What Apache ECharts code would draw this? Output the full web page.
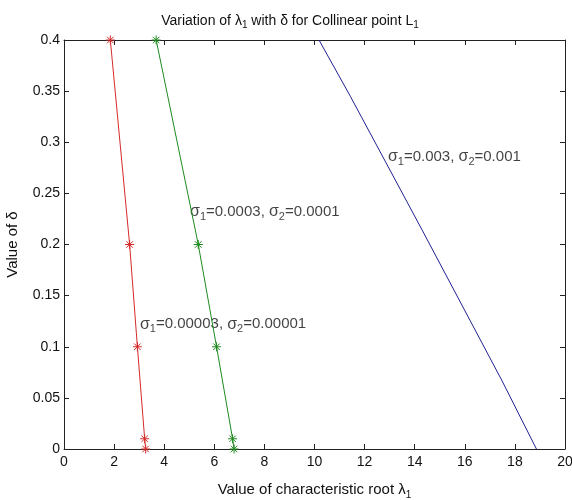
<!DOCTYPE html>
<html><head><meta charset="utf-8">
<script src="https://cdn.jsdelivr.net/npm/echarts@6/dist/echarts.min.js"></script>
<style>html,body{margin:0;padding:0;background:#fff}#c{width:572px;height:500px}</style>
</head><body><div id="c"></div>
<script>
const xTicks = [0,2,4,6,8,10,12,14,16,18,20];
const yTicks = [0,0.05,0.1,0.15,0.2,0.25,0.3,0.35,0.4];
const deltaMarked = [0.4, 0.2, 0.1, 0.01, 0];
const redLambda = [1.85, 2.62, 2.93, 3.22, 3.26];
const greenLambda = [3.68, 5.36, 6.09, 6.73, 6.79];
const blueDelta = [0.4, 0.345, 0.214, 0.0675, 0];
const blueLambda = [10.18, 11.43, 14.3, 17.47, 18.86];
const annotations = [
  {x: 12.93, y: 0.2855, s1: '0.003', s2: '0.001'},
  {x: 5.03, y: 0.232, s1: '0.0003', s2: '0.0001'},
  {x: 3.03, y: 0.122, s1: '0.00003', s2: '0.00001'}
];
const FONT = 'Liberation Sans, Arial, sans-serif';
const TXT = '#111';
const star = 'path://M0,-5L0,5M-5,0L5,0M-3.6,-3.6L3.6,3.6M-3.6,3.6L3.6,-3.6';
const chart = echarts.init(document.getElementById('c'));
function axisBase(extra) {
  return Object.assign({
    type: 'value',
    axisLine: {show: true, onZero: false, lineStyle: {color: '#222', width: 1}},
    axisTick: {show: true, inside: true, length: 5, lineStyle: {color: '#222'}},
    splitLine: {show: false},
    axisLabel: {color: TXT, fontFamily: FONT, fontSize: 14}
  }, extra);
}
function mk(vals, d, color, sym) {
  return {
    type: 'line', data: vals.map((v, i) => [v, d[i]]),
    symbol: sym ? star : 'none', symbolSize: 9,
    lineStyle: {color: color, width: 1},
    itemStyle: {color: 'rgba(0,0,0,0)', borderColor: color, borderWidth: 1},
    animation: false, silent: true
  };
}
const subStyle = (fs, pad) => ({fontFamily: FONT, fontSize: fs, color: TXT, padding: [pad,0,0,0]});
chart.setOption({
  animation: false,
  backgroundColor: '#fff',
  title: {
    text: 'Variation of {l|λ}{s|1} with δ for Collinear point L{s|1}',
    left: 285, top: 7, textAlign: 'center',
    textStyle: {fontFamily: FONT, fontSize: 14, fontWeight: 'normal', color: TXT,
      rich: {l: {fontFamily: FONT, fontSize: 14, color: TXT}, s: subStyle(10, 8)}}
  },
  grid: {left: 64, right: 7, top: 40, bottom: 51, containLabel: false, outerBoundsMode: 'none'},
  xAxis: [
    axisBase({min: 0, max: 20, interval: 2, position: 'bottom',
      name: 'Value of characteristic root {l|λ}{s|1}', nameLocation: 'middle', nameGap: 31,
      nameTextStyle: {fontFamily: FONT, fontSize: 15, color: TXT, rich: {l: {fontSize: 15, fontFamily: FONT, color: TXT}, s: subStyle(10, 10)}},
      axisLabel: {color: TXT, fontFamily: FONT, fontSize: 14, margin: 6, formatter: v => String(v)}
    }),
    axisBase({min: 0, max: 20, interval: 2, position: 'top', axisLabel: {show: false}})
  ],
  yAxis: [
    axisBase({min: 0, max: 0.4, interval: 0.05, position: 'left',
      name: 'Value of δ', nameLocation: 'middle', nameGap: 44, nameRotate: 90,
      nameTextStyle: {fontFamily: FONT, fontSize: 15, color: TXT},
      axisLabel: {color: TXT, fontFamily: FONT, fontSize: 14, margin: 4, formatter: v => String(+v.toFixed(2))}
    }),
    axisBase({min: 0, max: 0.4, interval: 0.05, position: 'right', axisLabel: {show: false}})
  ],
  series: [
    mk(redLambda, deltaMarked, '#d42a2a', true),
    mk(greenLambda, deltaMarked, '#1f8a1f', true),
    mk(blueLambda, blueDelta, '#202090', false),
    {
      type: 'scatter', symbolSize: 0, silent: true, animation: false,
      data: annotations.map(a => ({value: [a.x, a.y], s1: a.s1, s2: a.s2})),
      label: {
        show: true, position: 'right', distance: 0,
        formatter: p => '{g|σ}{s|1}{t|=' + p.data.s1 + ', }{g|σ}{s|2}{t|=' + p.data.s2 + '}',
        rich: {
          g: {fontFamily: FONT, fontSize: 16, color: TXT},
          t: {fontFamily: FONT, fontSize: 15, color: TXT},
          s: subStyle(11, 10)
        }
      }
    }
  ]
});
</script></body></html>
